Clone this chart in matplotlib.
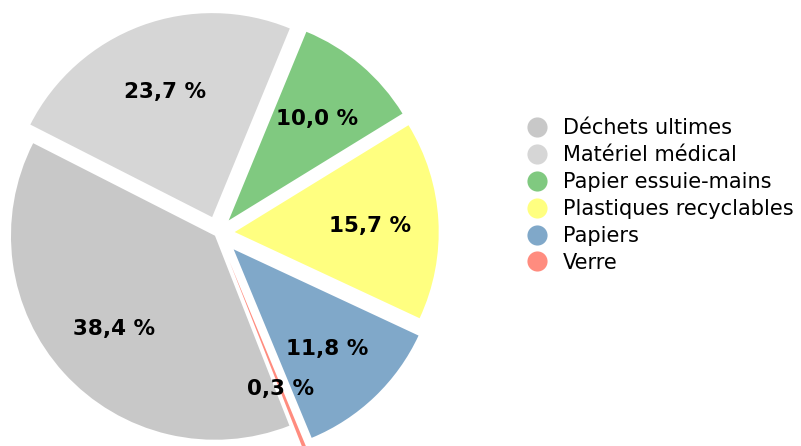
import matplotlib.pyplot as plt
from matplotlib.lines import Line2D

# ----------------------------- DATA -----------------------------
categories = ['Déchets ultimes', 'Matériel médical', 'Papier essuie-mains',
              'Plastiques recyclables', 'Papiers', 'Verre']
shares = [38.4, 23.7, 10.0, 15.7, 11.8, 0.3]
colors = ['#c8c8c8', '#d6d6d6', '#80c980', '#ffff80', '#80a8c9', '#ff8c7f']
explode = [0.02, 0.083, 0.081, 0.082, 0.111, 0.15]

# ----------------------------- LAYOUT -----------------------------
W, H = 801, 446
cx, cy, r = 218, 233, 204   # pie centre and radius in pixels

fig = plt.figure(figsize=(W / 100, H / 100), dpi=100)
ax = fig.add_axes([0, 0, 1, 1])

ax.pie(shares, colors=colors, explode=explode, startangle=-68.6,
       counterclock=False, radius=1.0, pctdistance=0.665,
       autopct=lambda p: f'{p:.1f} %'.replace('.', ','),
       textprops=dict(fontsize=15.5, fontweight='bold', color='black',
                      va='center_baseline'),
       wedgeprops=dict(linewidth=0))

ax.set_aspect('auto')
ax.set_xlim(-cx / r, (W - cx) / r)
ax.set_ylim((cy - H) / r, cy / r)
ax.axis('off')

handles = [Line2D([], [], linestyle='none', marker='o', markersize=14.5,
                  markerfacecolor=c, markeredgewidth=0) for c in colors]
fig.legend(handles, categories, loc='upper left',
           bbox_to_anchor=(516 / W, 1 - 110 / H), frameon=False,
           fontsize=15, labelspacing=0.33, handletextpad=0.65,
           handlelength=1.2, borderaxespad=0)

fig.savefig('out.png', dpi=100)
